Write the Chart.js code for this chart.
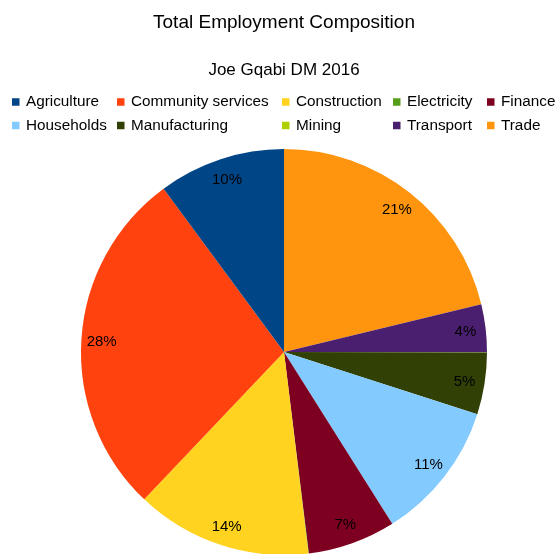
<!DOCTYPE html>
<html>
<head>
<meta charset="utf-8">
<script src="https://cdn.jsdelivr.net/npm/chart.js@4/dist/chart.umd.min.js"></script>
<style>
  html, body { margin: 0; padding: 0; background: #fff; }
  #wrap { width: 555px; height: 554px; }
</style>
</head>
<body>
<div id="wrap"><canvas id="empChart" width="555" height="554"></canvas></div>
<script>
// share of total employment, %
var sectors = ['Agriculture', 'Community services', 'Construction', 'Electricity', 'Finance',
               'Households', 'Manufacturing', 'Mining', 'Transport', 'Trade'];
var shares = [10.1, 27.8, 14.0, 0.03, 7.0, 11.1, 4.9, 0.03, 3.8, 21.2];
var colours = ['#004586', '#ff420e', '#ffd320', '#579d1c', '#7e0021',
               '#83caff', '#314004', '#aecf00', '#4b1f6f', '#ff950e'];

var FONT = '"Liberation Sans", Arial, sans-serif';

// slices run anticlockwise in the original, so feed them in reverse
var revLabels = sectors.slice().reverse();
var revData = shares.slice().reverse();
var revColours = colours.slice().reverse();

// legend laid out as a grid, like the original
var legendGrid = {
    id: 'legendGrid',
    afterDraw: function(chart) {
        var c = chart.ctx;
        var cols = [12, 117, 282, 393, 487];
        var rows = [102, 125.5];
        c.save();
        c.font = '15.3px ' + FONT;
        c.textBaseline = 'middle';
        c.textAlign = 'left';
        sectors.forEach(function(name, i) {
            var x = cols[i % 5], y = rows[Math.floor(i / 5)];
            c.fillStyle = colours[i];
            c.fillRect(x, y - 3.75, 7.5, 7.5);
            c.fillStyle = '#000';
            c.fillText(name, x + 14, y);
        });
        c.restore();
    }
};

// percentage labels inside the slices
var pctLabels = {
    id: 'pctLabels',
    afterDatasetsDraw: function(chart) {
        var c = chart.ctx;
        var meta = chart.getDatasetMeta(0);
        var data = chart.data.datasets[0].data;
        var total = data.reduce(function(a, b) { return a + b; }, 0);
        c.save();
        c.font = '15px ' + FONT;
        c.fillStyle = '#000';
        c.textAlign = 'center';
        c.textBaseline = 'middle';
        meta.data.forEach(function(arc, i) {
            var pct = Math.round(data[i] / total * 100);
            if (pct < 1) return;
            var p = arc.getProps(['x', 'y', 'startAngle', 'endAngle', 'outerRadius'], true);
            var mid = (p.startAngle + p.endAngle) / 2;
            var r = p.outerRadius * 0.9;
            c.fillText(pct + '%', p.x + Math.cos(mid) * r, p.y + 1 + Math.sin(mid) * r);
        });
        c.restore();
    }
};

var ctx = document.getElementById('empChart').getContext('2d');
var empChart = new Chart(ctx, {
    type: 'pie',
    data: {
        labels: revLabels,
        datasets: [{
            data: revData,
            backgroundColor: revColours,
            borderWidth: 0,
            radius: 203
        }]
    },
    options: {
        responsive: false,
        animation: false,
        layout: {
            padding: { left: 13, right: 0, top: 0, bottom: 0 }
        },
        plugins: {
            legend: { display: false },
            tooltip: { enabled: false },
            title: {
                display: true,
                text: 'Total Employment Composition',
                color: '#000',
                font: { family: FONT, size: 19, weight: 'normal' },
                padding: { top: 11, bottom: 17 }
            },
            subtitle: {
                display: true,
                text: 'Joe Gqabi DM 2016',
                color: '#000',
                font: { family: FONT, size: 17, weight: 'normal' },
                padding: { top: 9, bottom: 70 }
            }
        }
    },
    plugins: [legendGrid, pctLabels]
});
</script>
</body>
</html>
